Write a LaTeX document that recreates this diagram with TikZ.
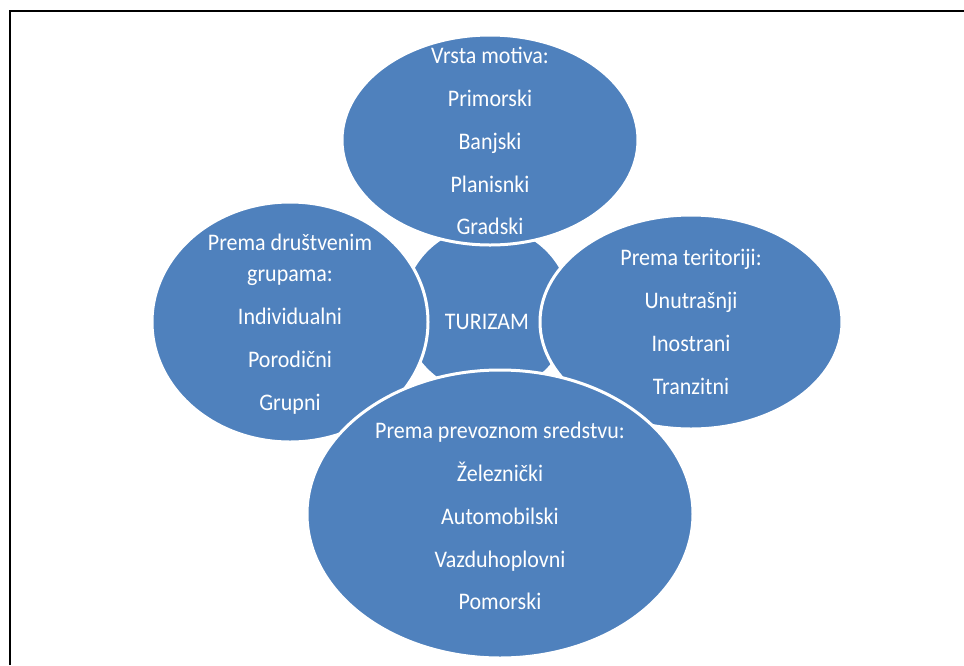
\documentclass[tikz,border=0pt]{standalone}
\usepackage{fontspec}
\setmainfont{Carlito}
\usepackage{tikz}
\definecolor{bubble}{HTML}{4F81BD}
\tikzset{
  oval/.style={fill=bubble, draw=white, line width=3pt},
  label/.style={text=white, align=center, yscale=1.08, transform shape,
    font=\fontsize{22}{28.7}\selectfont}
}

\begin{document}
\begin{tikzpicture}[x=1pt,y=-1pt]
    \useasboundingbox (0,0) rectangle (964,665);
    \draw[line width=2pt] (10,665) -- (10,11) -- (964,11);
    % centre and the four groups
    \filldraw[oval] (487,310) circle (85);
    \filldraw[oval] (490,140) ellipse (148 and 105);
    \filldraw[oval] (290,322) ellipse (138 and 120);
    \filldraw[oval] (691,322) ellipse (151 and 107);
    \filldraw[oval] (500,514) ellipse (193 and 144);
    \node[label] (turizam) at (487,322) {TURIZAM};
    \node[label] (motiv) at (490,141) {Vrsta motiva:\\[11pt] Primorski\\[11pt] Banjski\\[11pt] Planisnki\\[11pt] Gradski};
    \node[label] (grupe) at (290,324) {Prema društvenim\\ grupama:\\[11pt] Individualni\\[11pt] Porodični\\[11pt] Grupni};
    \node[label] (teritorija) at (691,322) {Prema teritoriji:\\[11pt] Unutrašnji\\[11pt] Inostrani\\[11pt] Tranzitni};
    \node[label] (prevoz) at (500,516) {Prema prevoznom sredstvu:\\[11pt] Železnički\\[11pt] Automobilski\\[11pt] Vazduhoplovni\\[11pt] Pomorski};
  \end{tikzpicture}
\end{document}
